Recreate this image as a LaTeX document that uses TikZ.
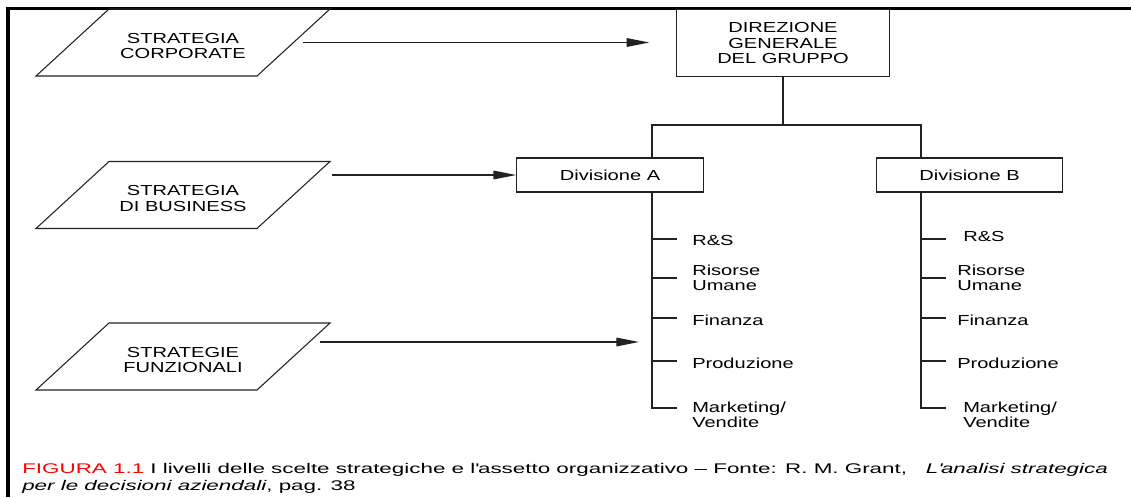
\documentclass[tikz,border=0pt]{standalone}
\usepackage{fontspec}
\setmainfont{Liberation Sans}[FakeStretch=1.38]
\newfontfamily\capfont{Liberation Sans}[FakeStretch=1.6]
\usepackage{xcolor}
\usetikzlibrary{arrows.meta}
\definecolor{captionRed}{HTML}{FF0000}
\definecolor{lineGray}{HTML}{222222}

\begin{document}
\begin{tikzpicture}[x=0.75pt, y=-0.75pt,
    txt/.style={font=\fontsize{10.9pt}{11.5pt}\selectfont},
    strat/.style={txt, align=center, inner sep=0pt},
    box/.style={txt, draw=lineGray, line width=0.8pt, align=center},
    item/.style={txt, anchor=west, align=left, inner sep=0pt},
    link/.style={lineGray, line width=0.8pt},
    arrow/.style={link, -{Triangle[length=17pt, width=6.5pt]}}]
    \useasboundingbox (0,0) rectangle (1131,497);
    % frame
    \draw[line width=2.4pt] (8,497) -- (8,8.5) -- (1131,8.5);
    % levels of strategy
    \node[strat] (corp) at (183,46) {STRATEGIA\\CORPORATE};
    \node[strat] (busi) at (183,198.5) {STRATEGIA\\DI BUSINESS};
    \node[strat] (funz) at (183,360) {STRATEGIE\\FUNZIONALI};
    \foreach \s in {corp, busi, funz}
        \draw[link] (\s) ++(-147,30) -- ++(221,0) -- ++(73,-67) -- ++(-221,0) -- cycle;
    % organisation
    \node[box, minimum width=159.75pt, minimum height=50.6pt] (dir) at (783,43)
        {DIREZIONE\\GENERALE\\DEL GRUPPO};
    \node[box, minimum width=140pt, minimum height=25.5pt] (divA) at (610,175) {Divisione A};
    \node[box, minimum width=140pt, minimum height=25.5pt] (divB) at (969.5,175) {Divisione B};
    \draw[link] (dir.south) -- (dir.south |- 0,125);
    \draw[link] (divA.north -| 652,0) -- (652,125) -- (921,125) -- (divB.north -| 921,0);
    % functions under each division
    \foreach \d/\x in {A/652, B/921} {
        \draw[link] (div\d.south -| \x,0) -- (\x,408) -- (\x+25,408);
        \foreach \y in {239,278,318,361}
            \draw[link] (\x,\y) -- (\x+25,\y);
    }
    \node[item] (rsA) at (692,240) {R\&S};
    \node[item] (umA) at (692,278) {Risorse\\Umane};
    \node[item] (finA) at (692,320) {Finanza};
    \node[item] (prodA) at (692,363) {Produzione};
    \node[item] (mktA) at (692,415) {Marketing/\\Vendite};
    \node[item] (rsB) at (963,236) {R\&S};
    \node[item] (umB) at (957,278) {Risorse\\Umane};
    \node[item] (finB) at (957,320) {Finanza};
    \node[item] (prodB) at (957,363) {Produzione};
    \node[item] (mktB) at (963,415) {Marketing/\\Vendite};
    % strategy -> level
    \coordinate (corpOut) at (303,42.5);
    \coordinate (busiOut) at (332,175);
    \coordinate (funzOut) at (320,342);
    \coordinate (funzIn) at (639,342);
    \draw[arrow, shorten >=20pt] (corpOut) -- (corpOut -| dir.west);
    \draw[arrow] (busiOut) -- (divA.west);
    \draw[arrow] (funzOut) -- (funzIn);
    % caption
    \node[anchor=base west, align=left, inner sep=0pt,
        font=\capfont\fontsize{10.5pt}{12.75pt}\selectfont] (caption) at (22,490)
        {\textcolor{captionRed}{FIGURA 1.1} I livelli delle scelte strategiche e l\textquotesingle assetto
        organizzativo – Fonte: R.~M. Grant, \ \ \textit{L\textquotesingle analisi strategica}\\
        \textit{per le decisioni aziendali}, pag. 38};
\end{tikzpicture}
\end{document}
